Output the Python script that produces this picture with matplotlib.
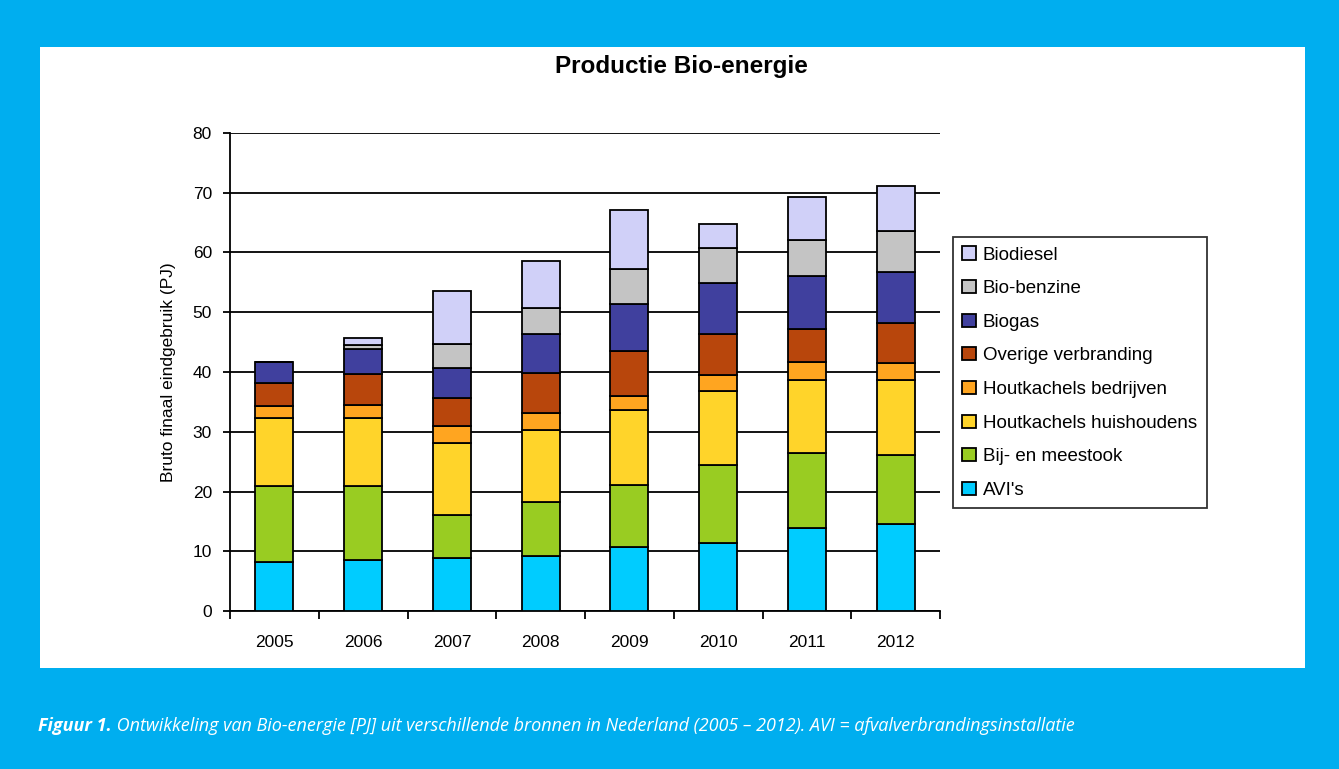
import matplotlib
matplotlib.use("Agg")
import matplotlib.pyplot as plt
import numpy as np
from matplotlib.patches import Rectangle

# data (PJ)
years = ["2005", "2006", "2007", "2008", "2009", "2010", "2011", "2012"]
avi = [8.2, 8.5, 8.9, 9.2, 10.7, 11.4, 13.9, 14.6]
bijstook = [12.7, 12.4, 7.1, 9.0, 10.4, 13.0, 12.5, 11.5]
hout_huis = [11.4, 11.4, 12.1, 12.1, 12.5, 12.4, 12.3, 12.6]
hout_bedr = [2.0, 2.2, 2.9, 2.8, 2.4, 2.7, 3.0, 2.8]
overige = [3.8, 5.1, 4.6, 6.8, 7.5, 6.8, 5.5, 6.7]
biogas = [3.6, 4.3, 5.1, 6.5, 7.9, 8.6, 8.9, 8.6]
biobenzine = [0.0, 0.7, 4.0, 4.3, 5.8, 5.8, 6.0, 6.8]
biodiesel = [0.0, 1.1, 8.9, 7.9, 9.9, 4.1, 7.2, 7.5]

series = [
    ("AVI's", avi, "#00CCFF"),
    ("Bij- en meestook", bijstook, "#99CC22"),
    ("Houtkachels huishoudens", hout_huis, "#FFD42A"),
    ("Houtkachels bedrijven", hout_bedr, "#FFA520"),
    ("Overige verbranding", overige, "#B8460C"),
    ("Biogas", biogas, "#40409E"),
    ("Bio-benzine", biobenzine, "#C4C4C4"),
    ("Biodiesel", biodiesel, "#D0D0F8"),
]

BG_BLUE = "#00AEEF"

fig = plt.figure(figsize=(13.39, 7.69), dpi=100)
fig.patch.set_facecolor(BG_BLUE)

# white chart panel, behind the axes
panel = Rectangle((40 / 1339, 1 - 668 / 769), (1305 - 40) / 1339, (668 - 47) / 769,
                  transform=fig.transFigure, facecolor="white", edgecolor="none", zorder=-5)
fig.patches.append(panel)

ax = fig.add_axes([230 / 1339, 1 - 611 / 769, (940 - 230) / 1339, (611 - 133) / 769])
ax.set_facecolor("white")

x = np.arange(len(years))
bottom = np.zeros(len(years))
handles = []
for name, vals, color in series:
    vals = np.array(vals)
    b = ax.bar(x, vals, width=0.43, bottom=bottom, color=color,
               edgecolor="black", linewidth=1.3, label=name, zorder=3)
    handles.append(b)
    bottom += vals

ax.set_ylim(0, 80)
ax.set_xlim(-0.5, len(years) - 0.5)
ax.set_yticks(np.arange(0, 81, 10))
ax.yaxis.grid(True, color="black", linewidth=1.3, zorder=1)
ax.set_axisbelow(True)

ax.set_xticks(x)
ax.set_xticklabels(years, fontsize=12.5, family="Liberation Sans")
ax.tick_params(axis="x", which="major", length=0, pad=17)
ax.set_xticks(np.arange(-0.5, len(years), 1), minor=True)
ax.tick_params(axis="x", which="minor", length=6, width=1.3, direction="out")
ax.tick_params(axis="y", length=5, width=1.3, labelsize=12.5, pad=8)
for lab in ax.get_yticklabels():
    lab.set_family("Liberation Sans")

for side in ["top", "right"]:
    ax.spines[side].set_visible(False)
for side in ["left", "bottom"]:
    ax.spines[side].set_linewidth(1.3)

ax.set_ylabel("Bruto finaal eindgebruik (PJ)", fontsize=12.5, family="Liberation Sans", labelpad=12)

fig.text(681 / 1339, 1 - 66 / 769, "Productie Bio-energie", ha="center", va="center",
         fontsize=17.5, fontweight="bold", family="Liberation Sans")

leg = fig.legend(handles[::-1], [s[0] for s in series][::-1],
                 loc="upper left", bbox_to_anchor=(953 / 1339, 1 - 237 / 769),
                 borderaxespad=0, frameon=True, fancybox=False, edgecolor="black",
                 prop={"family": "Liberation Sans", "size": 13.5},
                 handlelength=0.7, handleheight=0.7, handletextpad=0.4,
                 labelspacing=0.88, borderpad=0.5)
leg.get_frame().set_linewidth(1.3)

# caption
t1 = fig.text(38 / 1339, 1 - 726 / 769, "Figuur 1.", color="white", fontsize=13,
              fontweight="bold", style="italic", family="Open Sans", va="center")
ax.annotate(" Ontwikkeling van Bio-energie [PJ] uit verschillende bronnen in Nederland (2005 – 2012). "
            "AVI = afvalverbrandingsinstallatie",
            xy=(1, 0.5), xycoords=t1, va="center", ha="left", color="white",
            fontsize=13, style="italic", family="Open Sans", annotation_clip=False)

fig.savefig("out.png", dpi=100, facecolor=fig.get_facecolor())
